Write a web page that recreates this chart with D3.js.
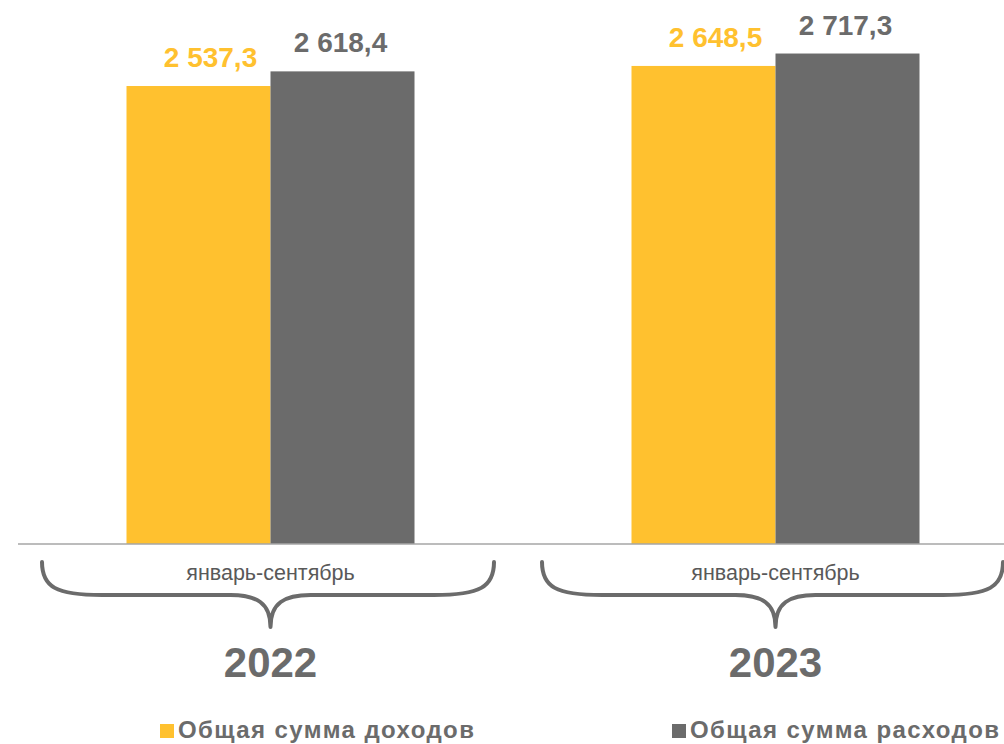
<!DOCTYPE html>
<html><head><meta charset="utf-8">
<script src="https://cdn.jsdelivr.net/npm/d3@7"></script>
<style>html,body{margin:0;padding:0;background:#fff;} svg{display:block;}</style>
</head><body>
<svg id="c" width="1004" height="744"></svg>
<script>
const years = ["2022", "2023"];
const periodLabels = ["январь-сентябрь", "январь-сентябрь"];
const seriesNames = ["Общая сумма доходов", "Общая сумма расходов"];
const income = [2537.3, 2648.5];
const expenses = [2618.4, 2717.3];
const colors = ["#FFC12F", "#6B6B6B"];

const fmt = v => {
  const [i, d] = v.toFixed(1).split(".");
  return i.replace(/\B(?=(\d{3})+(?!\d))/g, " ") + "," + d;
};

const svg = d3.select("#c");
const font = "'Liberation Sans', Arial, sans-serif";
const baseY = 544;

const x0 = d3.scaleBand().domain(years).range([18, 1028]);
const x1 = d3.scaleBand().domain([0, 1]).range([-144, 144]);
const y = d3.scaleLinear().domain([0, 3000]).range([baseY, 2.5]);

const data = years.map((yr, i) => ({ yr, vals: [income[i], expenses[i]] }));

const g = svg.selectAll("g.grp").data(data).join("g")
  .attr("transform", d => `translate(${x0(d.yr) + x0.bandwidth() / 2},0)`);

g.selectAll("rect").data(d => d.vals.map((v, k) => ({ v, k }))).join("rect")
  .attr("x", d => x1(d.k))
  .attr("width", x1.bandwidth())
  .attr("y", d => y(d.v))
  .attr("height", d => baseY - y(d.v))
  .attr("fill", d => colors[d.k]);

const labelDx = [12, -2];
g.selectAll("text.val").data(d => d.vals.map((v, k) => ({ v, k }))).join("text")
  .attr("class", "val")
  .attr("x", d => x1(d.k) + x1.bandwidth() / 2 + labelDx[d.k])
  .attr("y", d => y(d.v) - 19)
  .attr("text-anchor", "middle")
  .attr("font-family", font)
  .attr("font-weight", "bold")
  .attr("font-size", 28)
  .attr("fill", d => colors[d.k])
  .text(d => fmt(d.v));

// axis line
svg.append("line").attr("x1", 18).attr("x2", 1004).attr("y1", baseY).attr("y2", baseY)
  .attr("stroke", "#A6A6A6").attr("stroke-width", 1.5);

// braces
const braceSpans = [[42, 494], [542, 1003]];
g.append("path")
  .attr("d", (d, i) => {
    const c = x0.bandwidth() / 2 + x0(d.yr);
    const a = braceSpans[i][0] - c, b = braceSpans[i][1] - c;
    const top = 562, mid = 595, tip = 627;
    return `M${a},${top} C${a},${mid - 8} ${a + 14},${mid} ${a + 60},${mid}` +
      ` L${-40},${mid} C${-14},${mid} ${0},${mid + 8} ${0},${tip}` +
      ` M${b},${top} C${b},${mid - 8} ${b - 14},${mid} ${b - 60},${mid}` +
      ` L${40},${mid} C${14},${mid} ${0},${mid + 8} ${0},${tip}`;
  })
  .attr("fill", "none").attr("stroke", "#6B6B6B").attr("stroke-width", 4)
  .attr("stroke-linecap", "round").attr("stroke-linejoin", "round");

g.append("text")
  .attr("x", 0).attr("y", 580)
  .attr("text-anchor", "middle")
  .attr("font-family", font).attr("font-size", 21.5)
  .attr("fill", "#595959")
  .text((d, i) => periodLabels[i]);

g.append("text")
  .attr("x", 0).attr("y", 677)
  .attr("text-anchor", "middle")
  .attr("font-family", font).attr("font-weight", "bold").attr("font-size", 42)
  .attr("fill", "#6B6B6B")
  .text(d => d.yr);

// legend
const legX = [160, 672];
const leg = svg.selectAll("g.leg").data(seriesNames).join("g")
  .attr("transform", (d, i) => `translate(${legX[i]},0)`);
leg.append("rect").attr("x", 0).attr("y", 724).attr("width", 14).attr("height", 14)
  .attr("fill", (d, i) => colors[i]);
leg.append("text").attr("x", 18).attr("y", 738)
  .attr("font-family", font).attr("font-weight", "bold").attr("font-size", 24)
  .attr("letter-spacing", 1.4)
  .attr("fill", "#6B6B6B")
  .text(d => d);
</script>
</body></html>
